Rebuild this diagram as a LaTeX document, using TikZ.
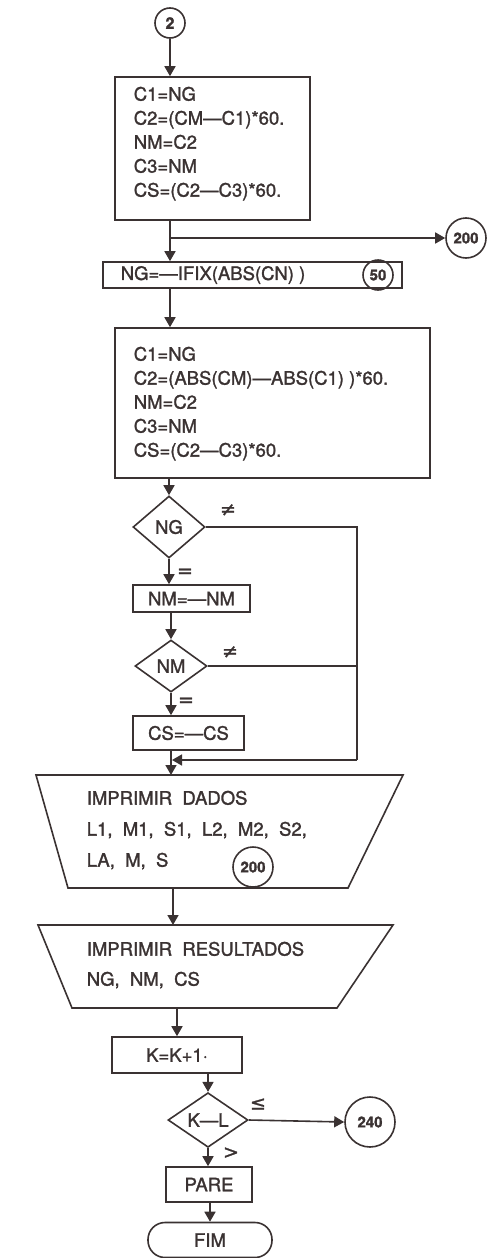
\documentclass[tikz,border=0pt]{standalone}
\usepackage{fontspec}
\setmainfont{TeX Gyre Heros}[FakeBold=1.5]
\newfontfamily\symf{DejaVu Sans}[FakeBold=1]
\usetikzlibrary{shapes.geometric,arrows.meta,calc}
\definecolor{ink}{RGB}{58,50,50}
\begin{document}
\begin{tikzpicture}[x=1pt,y=-1pt, line width=1.6pt, draw=ink, text=ink,
  every node/.style={font=\fontsize{18.5}{24}\selectfont, text=ink},
  box/.style={draw=ink, rectangle, inner sep=0pt},
  txt/.style={anchor=north west, inner sep=0pt, align=left},
  conn/.style={draw=ink, circle, inner sep=0pt, font=\bfseries\fontsize{15}{16}\selectfont},
  dec/.style={draw=ink, diamond, inner sep=0pt},
  sym/.style={inner sep=0pt, font=\symf\fontsize{19}{19}\selectfont},
  arr/.style={draw=ink, -{Triangle[length=10pt,width=11pt]}},
  ]
\useasboundingbox (0,0) rectangle (489,1258);

% top connector
\node[conn, minimum size=30pt, font=\bfseries\fontsize{16}{16}\selectfont] (c2) at (170,23) {2};

% box 1
\node[box, minimum width=195pt, minimum height=143pt] (b1) at (212.5,148.5) {};
\node[txt] (b1t) at (133,86) {C1=NG\\C2=(CM—C1)*60.\\NM=C2\\C3=NM\\CS=(C2—C3)*60.};

% branch to 200
\node[conn, minimum size=40pt] (c200a) at (466,238) {200};
\coordinate (br) at (170,238);

% box 2
\node[box, minimum width=299pt, minimum height=26pt] (b2) at (252.5,275) {};
\node[anchor=west, inner sep=0pt] (b2t) at (120,275) {NG=—IFIX(ABS(CN) )};
\node[conn, minimum size=30pt] (c50) at (378,275) {50};

% box 3
\node[box, minimum width=315pt, minimum height=150pt] (b3) at (272.5,403) {};
\node[txt] (b3t) at (133,346) {C1=NG\\C2=(ABS(CM)—ABS(C1) )*60.\\NM=C2\\C3=NM\\CS=(C2—C3)*60.};

% decision NG
\node[dec, minimum width=72pt, minimum height=62pt] (d1) at (169,527) {NG};
\node[sym] (ne1) at (228,510) {≠};
\node[sym] (eq1) at (185,573) {=};

% NM = -NM
\node[box, minimum width=117pt, minimum height=27pt] (b4) at (191.5,598.5) {NM=—NM};

% decision NM
\node[dec, minimum width=72pt, minimum height=52pt] (d2) at (171,666) {NM};
\node[sym] (ne2) at (230,652) {≠};
\node[sym] (eq2) at (186,702) {=};

% CS = -CS
\node[box, minimum width=111pt, minimum height=34pt] (b5) at (188.5,733) {CS=—CS};

% loop
\coordinate (lp) at (357,760);
\coordinate (mg) at (171,760);

% trapezoid 1
\coordinate (t1a) at (36,775);
\coordinate (t1b) at (403,775);
\coordinate (t1c) at (348,888);
\coordinate (t1d) at (68,888);
\coordinate (t1top) at (171,775);
\coordinate (t1bot) at (173,888);
\draw (t1a) -- (t1b) -- (t1c) -- (t1d) -- cycle;
\node[txt, font=\fontsize{18.5}{31}\selectfont] (t1t) at (86,790) {IMPRIMIR\ \ DADOS\\L1,\ \ M1,\ \ S1,\ \ L2,\ \ M2,\ \ S2,\\LA,\ \ M,\ \ S};
\node[conn, minimum size=40pt] (c200b) at (253,867) {200};

% trapezoid 2
\coordinate (t2a) at (38,925);
\coordinate (t2b) at (393,925);
\coordinate (t2c) at (337,1008);
\coordinate (t2d) at (72,1008);
\coordinate (t2top) at (173,925);
\coordinate (t2bot) at (177,1008);
\draw (t2a) -- (t2b) -- (t2c) -- (t2d) -- cycle;
\node[txt, font=\fontsize{18.5}{30}\selectfont] (t2t) at (86,941) {IMPRIMIR\ \ RESULTADOS\\NG,\ \ NM,\ \ CS};

% K = K + 1
\node[box, minimum width=130pt, minimum height=36pt] (bk) at (177,1055) {K=K+1·};

% decision K-L
\node[dec, minimum width=80pt, minimum height=54pt] (dk) at (208,1120) {K—L};
\node[sym] (le) at (258,1104) {≤};
\node[sym] (gt) at (231,1153) {>};
\node[conn, minimum size=50pt] (c240) at (370,1122) {240};

% PARE, FIM
\node[box, minimum width=86pt, minimum height=35pt] (pare) at (209,1184.5) {PARE};
\node[box, rounded corners=17pt, minimum width=124pt, minimum height=35pt] (fim) at (210,1240) {FIM};

% connectors
\draw[arr] (c2.south) -- (c2.south |- b1.north);
\draw (c2.center |- b1.south) -- (br);
\draw[arr] (br) -- (c2.center |- b2.north);
\draw[arr] (br) -- (c200a.west);
\draw[arr] (c2.center |- b2.south) -- (c2.center |- b3.north);
\draw[arr] (d1.center |- b3.south) -- (d1.north);
\draw[arr] (d1.south) -- (d1.center |- b4.north);
\draw[arr] (d2.center |- b4.south) -- (d2.north);
\draw[arr] (d2.south) -- (d2.center |- b5.north);
\draw (d1.east) -| (lp);
\draw (d2.east) -- (d2.east -| lp);
\draw[arr] (lp) -- ([xshift=1pt]mg);
\draw (d2.center |- b5.south) -- (mg);
\draw[arr] (mg) -- (t1top);
\draw[arr] (t1bot) -- (t2top);
\draw[arr] (t2bot) -- (t2bot |- bk.north);
\draw[arr] (dk.center |- bk.south) -- (dk.north);
\draw[arr] (dk.east) -- (c240.west);
\draw[arr] (dk.south) -- (dk.center |- pare.north);
\draw[arr] (fim.center |- pare.south) -- (fim.north);
\end{tikzpicture}
\end{document}
